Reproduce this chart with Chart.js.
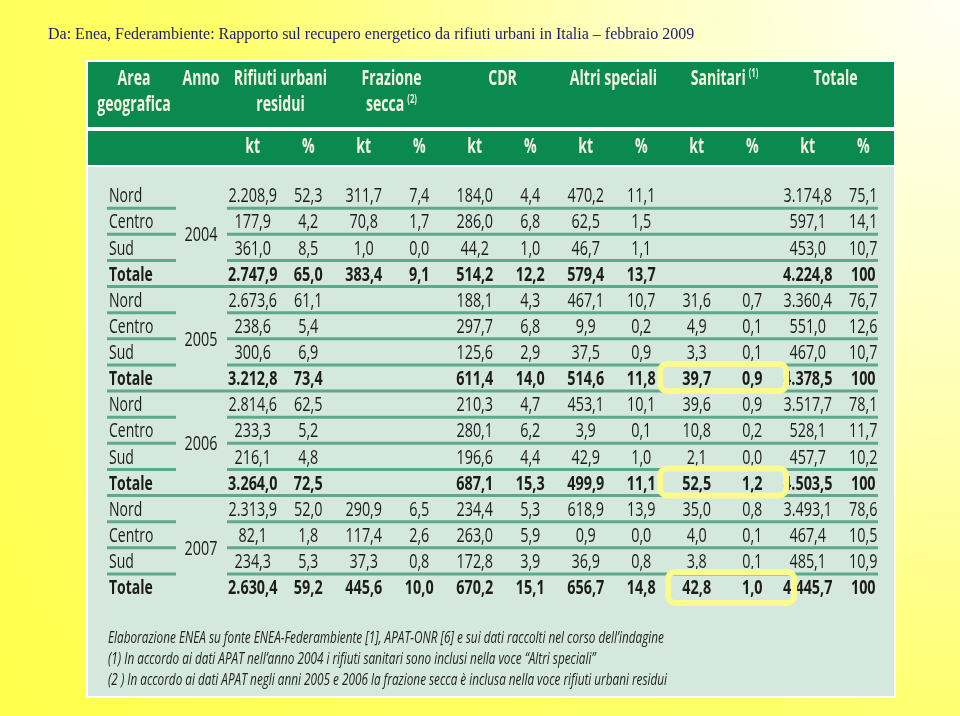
<!DOCTYPE html>
<html lang="it">
<head>
<meta charset="utf-8">
<title>Recupero energetico da rifiuti urbani in Italia</title>
<script src="https://cdn.jsdelivr.net/npm/chart.js@4.4.1/dist/chart.umd.min.js"></script>
<style>
  html, body { margin: 0; padding: 0; }
  body {
    width: 960px; height: 716px; position: relative; overflow: hidden;
    background: radial-gradient(circle at 100% 0%, #fffff6 0%, #ffffbc 30%, #ffff6a 62%, #ffff4c 100%);
  }
  #table { position: absolute; left: 0; top: 0; }
  #source {
    position: absolute; left: 48px; top: 25px; white-space: nowrap;
    font: 16px 'Liberation Serif', 'Times New Roman', serif; color: #1c1c6e;
  }
  #notes {
    position: absolute; left: 108px; top: 627px; white-space: nowrap;
    font: italic 16px 'Open Sans', sans-serif; line-height: 21px; color: #1e1e1e;
    transform: scaleX(0.735); transform-origin: 0 0;
  }
</style>
</head>
<body>
<canvas id="table" width="960" height="716"></canvas>
<div id="source">Da: Enea, Federambiente: Rapporto sul recupero energetico da rifiuti urbani in Italia – febbraio 2009</div>
<div id="notes">
  <div>Elaborazione ENEA su fonte ENEA-Federambiente [1], APAT-ONR [6] e sui dati raccolti nel corso dell’indagine</div>
  <div>(1) In accordo ai dati APAT nell’anno 2004 i rifiuti sanitari sono inclusi nella voce “Altri speciali”</div>
  <div>(2 ) In accordo ai dati APAT negli anni 2005 e 2006 la frazione secca è inclusa nella voce rifiuti urbani residui</div>
</div>
<script>
// rows: 4 years x (Nord, Centro, Sud, Totale); null = empty cell
const regions = ['Nord', 'Centro', 'Sud', 'Totale'];
const years = ['2004', '2005', '2006', '2007'];

const ruKt   = [2208.9, 177.9, 361.0, 2747.9, 2673.6, 238.6, 300.6, 3212.8, 2814.6, 233.3, 216.1, 3264.0, 2313.9, 82.1, 234.3, 2630.4];
const ruPct  = [52.3, 4.2, 8.5, 65.0, 61.1, 5.4, 6.9, 73.4, 62.5, 5.2, 4.8, 72.5, 52.0, 1.8, 5.3, 59.2];
const fsKt   = [311.7, 70.8, 1.0, 383.4, null, null, null, null, null, null, null, null, 290.9, 117.4, 37.3, 445.6];
const fsPct  = [7.4, 1.7, 0.0, 9.1, null, null, null, null, null, null, null, null, 6.5, 2.6, 0.8, 10.0];
const cdrKt  = [184.0, 286.0, 44.2, 514.2, 188.1, 297.7, 125.6, 611.4, 210.3, 280.1, 196.6, 687.1, 234.4, 263.0, 172.8, 670.2];
const cdrPct = [4.4, 6.8, 1.0, 12.2, 4.3, 6.8, 2.9, 14.0, 4.7, 6.2, 4.4, 15.3, 5.3, 5.9, 3.9, 15.1];
const altKt  = [470.2, 62.5, 46.7, 579.4, 467.1, 9.9, 37.5, 514.6, 453.1, 3.9, 42.9, 499.9, 618.9, 0.9, 36.9, 656.7];
const altPct = [11.1, 1.5, 1.1, 13.7, 10.7, 0.2, 0.9, 11.8, 10.1, 0.1, 1.0, 11.1, 13.9, 0.0, 0.8, 14.8];
const sanKt  = [null, null, null, null, 31.6, 4.9, 3.3, 39.7, 39.6, 10.8, 2.1, 52.5, 35.0, 4.0, 3.8, 42.8];
const sanPct = [null, null, null, null, 0.7, 0.1, 0.1, 0.9, 0.9, 0.2, 0.0, 1.2, 0.8, 0.1, 0.1, 1.0];
const totKt  = [3174.8, 597.1, 453.0, 4224.8, 3360.4, 551.0, 467.0, 4378.5, 3517.7, 528.1, 457.7, 4503.5, 3493.1, 467.4, 485.1, 4445.7];
const totPct = [75.1, 14.1, 10.7, 100, 76.7, 12.6, 10.7, 100, 78.1, 11.7, 10.2, 100, 78.6, 10.5, 10.9, 100];

const groups = [
  { lines: ['Rifiuti urbani', 'residui'] },
  { lines: ['Frazione', 'secca'], sup: '(2)' },
  { lines: ['CDR'] },
  { lines: ['Altri speciali'] },
  { lines: ['Sanitari'], sup: '(1)' },
  { lines: ['Totale'] },
];
const units = ['kt', '%'];
// Sanitari totals circled in yellow on the original slide
const circled = ['Totale 2005', 'Totale 2006', 'Totale 2007'];

const columns = [ruKt, ruPct, fsKt, fsPct, cdrKt, cdrPct, altKt, altPct, sanKt, sanPct, totKt, totPct];
const colKeys = columns.map((_, i) => 'c' + i);
const rowKeys = years.flatMap(y => regions.map(r => r + ' ' + y));

const GREEN = '#0b8a50';
const BODY = '#d4e8de';
const RULE = '#5fa98b';
const INK = '#1c1c1c';
const HEAD_INK = '#f4f4de';
const SX = 0.72;
const HSX = 0.64;
const FONT = "'Open Sans', sans-serif";

function fmt(v) {
  if (v === null) return '';
  if (v === 100) return '100';
  const [i, d] = v.toFixed(1).split('.');
  return i.replace(/\B(?=(\d{3})+(?!\d))/g, '.') + ',' + d;
}

function txt(ctx, s, x, y, font, color, align = 'center', sx = SX) {
  ctx.save();
  ctx.translate(x, y);
  ctx.scale(sx, 1);
  ctx.font = font;
  ctx.fillStyle = color;
  ctx.textAlign = align;
  ctx.textBaseline = 'middle';
  ctx.fillText(s, 0, 0);
  ctx.restore();
}

function txtSup(ctx, s, sup, cx, y) {
  const f = 'bold 22px ' + FONT, fs = 'bold 12px ' + FONT;
  ctx.save();
  ctx.font = f;
  const mw = ctx.measureText(s).width * HSX;
  ctx.font = fs;
  const sw = ctx.measureText(sup).width * HSX;
  ctx.restore();
  const x0 = cx - (mw + 3 + sw) / 2;
  txt(ctx, s, x0, y, f, HEAD_INK, 'left', HSX);
  txt(ctx, sup, x0 + mw + 3, y - 5, fs, HEAD_INK, 'left', HSX);
}

function roundBox(ctx, x0, y0, x1, y1, r) {
  ctx.beginPath();
  ctx.moveTo(x0 + r, y0);
  ctx.arcTo(x1, y0, x1, y1, r);
  ctx.arcTo(x1, y1, x0, y1, r);
  ctx.arcTo(x0, y1, x0, y0, r);
  ctx.arcTo(x0, y0, x1, y0, r);
  ctx.closePath();
}

const tablePlugin = {
  id: 'table',
  beforeDatasetsDraw(chart) {
    const { ctx, scales: { x, y } } = chart;
    const band = y.height / rowKeys.length;

    // panel
    ctx.save();
    ctx.fillStyle = '#ffffff';
    ctx.fillRect(86, 60, 810, 638);
    ctx.fillStyle = GREEN;
    ctx.fillRect(88, 62, 806, 65);
    ctx.fillRect(88, 131, 806, 34);
    ctx.fillStyle = BODY;
    ctx.fillRect(88, 167, 806, 529);
    ctx.restore();

    // header
    const hf = 'bold 22px ' + FONT;
    txt(ctx, 'Area', 134, 79, hf, HEAD_INK, 'center', HSX);
    txt(ctx, 'geografica', 134, 105, hf, HEAD_INK, 'center', HSX);
    txt(ctx, 'Anno', 201, 79, hf, HEAD_INK, 'center', HSX);
    groups.forEach((g, i) => {
      const cx = (x.getPixelForValue(2 * i) + x.getPixelForValue(2 * i + 1)) / 2;
      g.lines.forEach((line, j) => {
        const ly = 79 + j * 26;
        if (g.sup && j === g.lines.length - 1) txtSup(ctx, line, g.sup, cx, ly);
        else txt(ctx, line, cx, ly, hf, HEAD_INK, 'center', HSX);
      });
    });
    colKeys.forEach((k, i) => txt(ctx, units[i % 2], x.getPixelForValue(i), 147, hf, HEAD_INK, 'center', HSX));

    // row rules
    ctx.save();
    ctx.strokeStyle = RULE;
    ctx.lineWidth = 3;
    rowKeys.forEach((k, i) => {
      if (i === rowKeys.length - 1) return;
      const ly = y.getPixelForValue(i) + band / 2;
      ctx.beginPath();
      if (i % 4 === 3) {
        ctx.moveTo(107, ly); ctx.lineTo(878, ly);
      } else {
        ctx.moveTo(107, ly); ctx.lineTo(176, ly);
        ctx.moveTo(x.left + 2, ly); ctx.lineTo(878, ly);
      }
      ctx.stroke();
    });
    ctx.restore();

    // area and year labels
    rowKeys.forEach((k, i) => {
      const bold = i % 4 === 3;
      txt(ctx, regions[i % 4], 109, y.getPixelForValue(i) + 1.5, (bold ? 'bold ' : '') + '20px ' + FONT, INK, 'left', 0.7);
    });
    years.forEach((yr, j) => {
      const cy = (y.getPixelForValue(4 * j + 1) + y.getPixelForValue(4 * j + 2)) / 2;
      txt(ctx, yr, 201, cy + 1.5, '20px ' + FONT, INK);
    });
  },
  afterDatasetsDraw(chart) {
    const { ctx, scales: { x, y } } = chart;
    chart.data.datasets.forEach((ds, c) => {
      chart.getDatasetMeta(c).data.forEach((pt, r) => {
        const v = ds.data[r].v;
        if (v === null) return;
        const bold = r % 4 === 3;
        txt(ctx, fmt(v), pt.x, pt.y + 1.5, (bold ? 'bold ' : '') + '20px ' + FONT, INK);
      });
    });

    // yellow annotation boxes round the Sanitari totals
    const band = x.width / colKeys.length;
    ctx.save();
    ctx.strokeStyle = '#fbfa8e';
    ctx.lineWidth = 6;
    circled.forEach((k, i) => {
      const cy = y.getPixelForValue(rowKeys.indexOf(k));
      const last = i === circled.length - 1;
      const shift = last ? 8 : 0;
      const x0 = x.getPixelForValue(8) - band * 0.66 + shift;
      const x1 = x.getPixelForValue(9) + band * 0.61 + shift;
      roundBox(ctx, x0, cy - 14 - (last ? 1 : 0), x1, cy + 13 + (last ? 3 : 0), 7);
      ctx.stroke();
    });
    ctx.restore();
  },
};

new Chart(document.getElementById('table'), {
  type: 'scatter',
  data: {
    datasets: columns.map((vals, c) => ({
      label: colKeys[c],
      data: vals.map((v, r) => ({ x: colKeys[c], y: rowKeys[r], v })),
      pointRadius: 0,
      pointHoverRadius: 0,
    })),
  },
  options: {
    responsive: false,
    animation: false,
    events: [],
    layout: { padding: { left: 225, right: 69, top: 182, bottom: 116 } },
    plugins: { legend: { display: false }, tooltip: { enabled: false } },
    scales: {
      x: { type: 'category', labels: colKeys, offset: true, display: false },
      y: { type: 'category', labels: rowKeys, offset: true, display: false },
    },
  },
  plugins: [tablePlugin],
});
</script>
</body>
</html>
